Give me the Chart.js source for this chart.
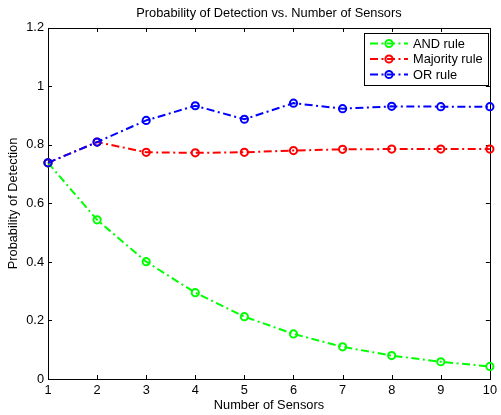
<!DOCTYPE html>
<html>
<head>
<meta charset="utf-8">
<script src="https://cdn.jsdelivr.net/npm/chart.js@4/dist/chart.umd.min.js"></script>
<style>
html,body{margin:0;padding:0;background:#fff;}
#wrap{width:501px;height:415px;position:relative;}
</style>
</head>
<body>
<div id="wrap"><canvas id="c" width="501" height="415"></canvas></div>
<script>
// ---- data ----
const sensors = [1, 2, 3, 4, 5, 6, 7, 8, 9, 10];
const andRule = [0.739, 0.544, 0.401, 0.295, 0.213, 0.154, 0.110, 0.080, 0.059, 0.043];
const majorityRule = [0.739, 0.810, 0.775, 0.773, 0.775, 0.781, 0.785, 0.786, 0.786, 0.786];
const orRule = [0.739, 0.810, 0.884, 0.934, 0.888, 0.943, 0.924, 0.932, 0.931, 0.931];
const xTicks = [1, 2, 3, 4, 5, 6, 7, 8, 9, 10];
const yTicks = [0, 0.2, 0.4, 0.6, 0.8, 1, 1.2];
const seriesNames = ['AND rule', 'Majority rule', 'OR rule'];
const chartTitle = 'Probability of Detection vs. Number of Sensors';
const xTitle = 'Number of Sensors';
const yTitle = 'Probability of Detection';

const FONT = "'Liberation Sans', Arial, Helvetica, sans-serif";
const FS = 12.8;
const DASH = [8, 3.5, 2, 3.5];
const MR = 3.6;

function mk(label, vals, color, order) {
  return {
    label: label,
    data: sensors.map((s, i) => ({x: s, y: vals[i]})),
    borderColor: color,
    backgroundColor: color,
    borderWidth: 2,
    borderDash: DASH,
    pointStyle: 'circle',
    pointRadius: MR,
    pointBorderWidth: 2,
    pointBorderColor: color,
    pointBackgroundColor: 'rgba(0,0,0,0)',
    fill: false,
    tension: 0,
    clip: false,
    order: order
  };
}

const boxPlugin = {
  id: 'matlabBox',
  beforeDatasetsDraw(chart) {
    const {ctx, chartArea: a, scales} = chart;
    ctx.save();
    ctx.strokeStyle = '#000';
    ctx.lineWidth = 1;
    ctx.setLineDash([]);
    ctx.strokeRect(Math.round(a.left) + 0.5, Math.round(a.top) + 0.5, Math.round(a.right - a.left), Math.round(a.bottom - a.top));
    const tl = 4;
    ctx.beginPath();
    xTicks.forEach(v => {
      const px = Math.round(scales.x.getPixelForValue(v)) + 0.5;
      ctx.moveTo(px, a.bottom); ctx.lineTo(px, a.bottom - tl);
      ctx.moveTo(px, a.top); ctx.lineTo(px, a.top + tl);
    });
    yTicks.forEach(v => {
      const py = Math.round(scales.y.getPixelForValue(v)) + 0.5;
      ctx.moveTo(a.left, py); ctx.lineTo(a.left + tl, py);
      ctx.moveTo(a.right, py); ctx.lineTo(a.right - tl, py);
    });
    ctx.stroke();
    ctx.restore();
  },
  afterDatasetsDraw(chart) {
    const {ctx} = chart;
    const bx = 364.5, by = 33.5, bw = 124, bh = 52;
    ctx.save();
    ctx.fillStyle = '#fff';
    ctx.fillRect(bx, by, bw, bh);
    ctx.strokeStyle = '#000';
    ctx.lineWidth = 1;
    ctx.setLineDash([]);
    ctx.strokeRect(bx, by, bw, bh);
    const rowsY = [43.5, 59, 74.5];
    ctx.font = FS + 'px ' + FONT;
    ctx.textBaseline = 'middle';
    ctx.textAlign = 'left';
    chart.data.datasets.forEach((ds, i) => {
      const y = rowsY[i];
      ctx.strokeStyle = ds.borderColor;
      ctx.lineWidth = 2;
      ctx.setLineDash(DASH);
      ctx.beginPath();
      ctx.moveTo(370, y); ctx.lineTo(408, y);
      ctx.stroke();
      ctx.setLineDash([]);
      ctx.beginPath();
      ctx.arc(389, y, MR, 0, Math.PI * 2);
      ctx.stroke();
      ctx.fillStyle = '#000';
      ctx.fillText(ds.label, 413, y + 0.5);
    });
    ctx.restore();
  }
};

new Chart(document.getElementById('c'), {
  type: 'line',
  data: {
    datasets: [
      mk(seriesNames[0], andRule, '#00ff00', 3),
      mk(seriesNames[1], majorityRule, '#ff0000', 2),
      mk(seriesNames[2], orRule, '#0000ff', 1)
    ]
  },
  options: {
    responsive: false,
    animation: false,
    devicePixelRatio: 1,
    layout: {padding: {left: 0, right: 7, top: 0, bottom: 0}},
    plugins: {
      legend: {display: false},
      tooltip: {enabled: false},
      title: {
        display: true,
        text: chartTitle,
        fullSize: false,
        color: '#000',
        font: {family: FONT, size: FS, weight: 'normal'},
        padding: {top: 5.5, bottom: 7.1}
      }
    },
    scales: {
      x: {
        type: 'linear',
        min: 1, max: 10,
        afterFit(s) { s.height = 36; },
        afterBuildTicks(s) { s.ticks = xTicks.map(v => ({value: v})); },
        grid: {display: false, drawTicks: false},
        border: {display: false},
        ticks: {color: '#000', font: {family: FONT, size: FS}, padding: 4, maxRotation: 0, autoSkip: false,
                callback: v => String(v)},
        title: {display: true, text: xTitle, color: '#000', font: {family: FONT, size: FS}, padding: {top: 0, bottom: 1.5}}
      },
      y: {
        type: 'linear',
        min: 0, max: 1.2,
        afterFit(s) { s.width = 48; },
        afterBuildTicks(s) { s.ticks = yTicks.map(v => ({value: v})); },
        grid: {display: false, drawTicks: false},
        border: {display: false},
        ticks: {color: '#000', font: {family: FONT, size: FS}, padding: 4, autoSkip: false,
                callback: v => String(v)},
        title: {display: true, text: yTitle, color: '#000', font: {family: FONT, size: FS}, padding: {top: 6, bottom: 0}}
      }
    }
  },
  plugins: [boxPlugin]
});
</script>
</body>
</html>
